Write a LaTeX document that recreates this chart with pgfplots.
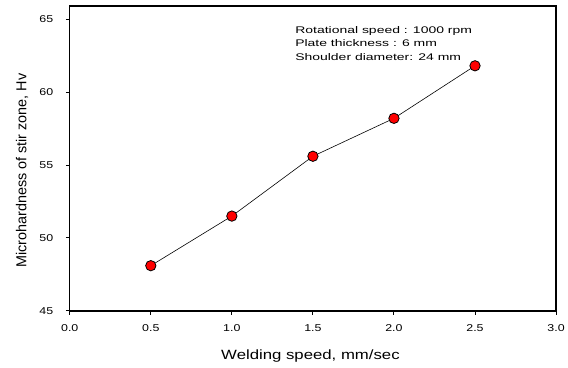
\documentclass[border=0pt]{standalone}
\usepackage{fontspec}
\setmainfont{Liberation Sans}
\newfontfamily\widesans[FakeStretch=1.25]{Liberation Sans}
\newfontfamily\widernote[FakeStretch=1.45]{Liberation Sans}
\usepackage{pgfplots}
\pgfplotsset{compat=1.18}

\begin{document}
\begin{tikzpicture}[x=1bp,y=1bp]
\begin{axis}[
  at={(0,0)}, anchor=south west,
  scale only axis,
  width=488bp, height=306bp,
  xmin=0, xmax=3, ymin=45, ymax=65.9,
  xtick={0,0.5,...,3.0},
  ytick={45,50,55,60,65},
  axis line style={line width=1.3pt},
  tick style={line width=1pt, black},
  tick align=outside,
  major tick length=4bp,
  xtick pos=bottom, ytick pos=left,
  xticklabel style={yshift=-6bp, /pgf/number format/.cd, fixed, fixed zerofill, precision=1},
  /pgf/number format/assume math mode=true,
  ticklabel style={font=\widesans\fontsize{10}{11}\selectfont},
  yticklabel style={xshift=-9bp},
  xlabel={Welding speed, mm/sec},
  ylabel={Microhardness of stir zone, Hv},
  xlabel style={font=\widesans\fontsize{13.5}{14}\selectfont,
    at={(axis description cs:0.495,-0.147)}, anchor=center},
  ylabel style={font=\fontsize{14.5}{15}\selectfont,
    at={(axis description cs:-0.098,0.46)}, anchor=center},
  every axis plot/.append style={line width=0.6pt},
]
\addplot[black, mark=*, mark size=5.2bp,
  mark options={fill=red, draw=black, line width=0.8pt}]
  coordinates {(0.5,48.1) (1.0,51.5) (1.5,55.6) (2.0,58.2) (2.5,61.8)};
\node[anchor=north west, align=left, font=\widernote\fontsize{9.7}{13.5}\selectfont, inner sep=0pt]
  at (axis cs:1.39,64.5) {Rotational speed : 1000 rpm\\Plate thickness : 6 mm\\Shoulder diameter: 24 mm};
\end{axis}
\path[use as bounding box] (-70,-57) rectangle (498,312);
\end{tikzpicture}
\end{document}
